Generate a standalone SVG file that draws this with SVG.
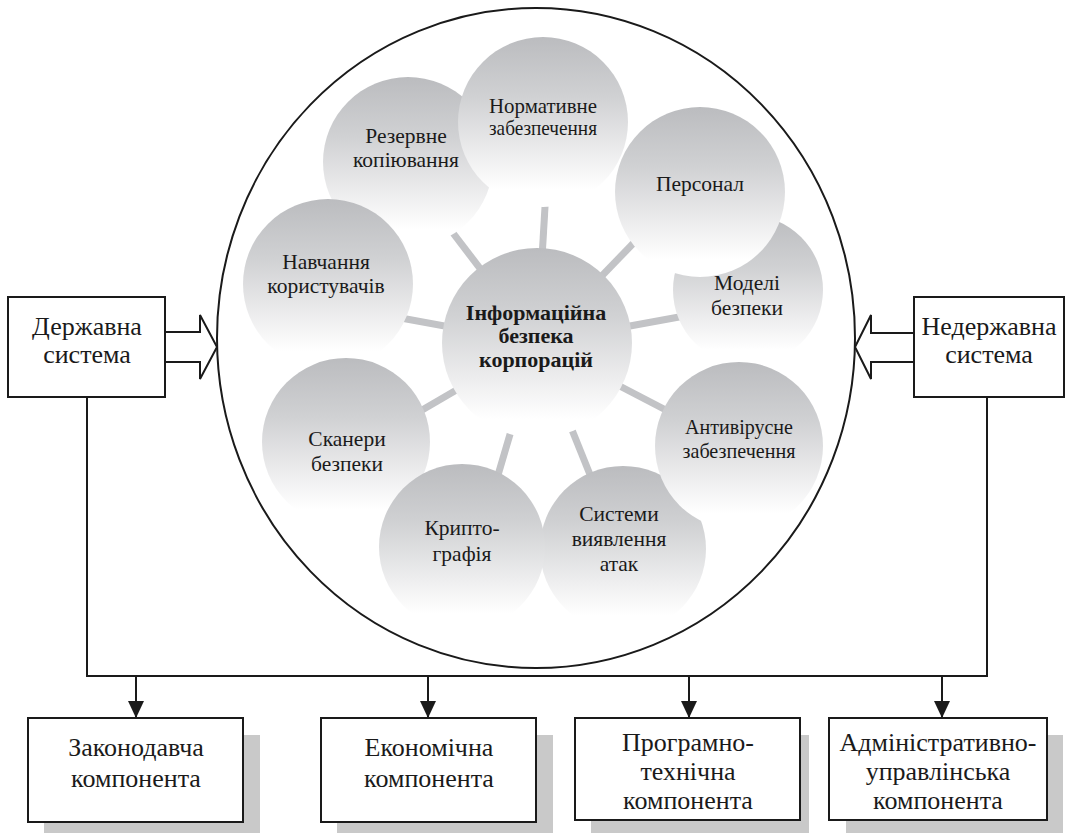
<svg xmlns="http://www.w3.org/2000/svg" width="1070" height="833" viewBox="0 0 1070 833">
<defs>
<linearGradient id="g" x1="0" y1="0" x2="0" y2="1">
<stop offset="0" stop-color="#bbbcbf"/>
<stop offset="0.35" stop-color="#d0d1d3"/>
<stop offset="0.7" stop-color="#eeeeef"/>
<stop offset="0.9" stop-color="#ffffff"/>
</linearGradient>
<marker id="ah" markerWidth="17" markerHeight="16" refX="17" refY="8" orient="auto" markerUnits="userSpaceOnUse" viewBox="0 0 17 16">
<path d="M0,0 L17,8 L0,16 Z" fill="#1a1a1a"/>
</marker>
</defs>
<style>
text{font-family:"Liberation Serif","DejaVu Serif","Noto Serif",serif;fill:#1a1a1a;text-anchor:middle}
.s{font-size:21.5px}
.b{font-size:22px;font-weight:bold}
.o{font-size:26px}
.box{fill:#ffffff;stroke:#1a1a1a;stroke-width:2}
.sh{fill:#c9c9c9}
.bub{fill:url(#g)}
.spoke{stroke:#c2c3c6;stroke-width:7;fill:none}
.ln{stroke:#1a1a1a;stroke-width:2;fill:none}
</style>
<rect width="1070" height="833" fill="#ffffff"/>

<g id="outer-circle">
<ellipse cx="536" cy="338" rx="319" ry="330" fill="none" stroke="#1a1a1a" stroke-width="2"/>
</g>

<g id="spokes">
<line class="spoke" x1="537" y1="343" x2="546" y2="190"/>
<line class="spoke" x1="537" y1="343" x2="440" y2="216"/>
<line class="spoke" x1="537" y1="343" x2="650" y2="226"/>
<line class="spoke" x1="537" y1="343" x2="690" y2="315"/>
<line class="spoke" x1="537" y1="343" x2="390" y2="316"/>
<line class="spoke" x1="537" y1="343" x2="405" y2="420"/>
<line class="spoke" x1="537" y1="343" x2="685" y2="420"/>
<line class="spoke" x1="537" y1="343" x2="493" y2="492"/>
<line class="spoke" x1="537" y1="343" x2="597" y2="492"/>
</g>

<g id="n-rezerv"><circle class="bub" cx="408" cy="162" r="85"/>
<text class="s" x="406" y="143">Резервне</text><text class="s" x="406" y="167">копіювання</text></g>
<g id="n-normat"><circle class="bub" cx="543" cy="122" r="85"/>
<text class="s" x="543" y="113" textLength="108" lengthAdjust="spacingAndGlyphs">Нормативне</text><text class="s" x="543" y="135" textLength="108" lengthAdjust="spacingAndGlyphs">забезпечення</text></g>
<g id="n-modeli"><circle class="bub" cx="748" cy="290" r="75"/>
<text class="s" x="747" y="290">Моделі</text><text class="s" x="747" y="315">безпеки</text></g>
<g id="n-personal"><circle class="bub" cx="700" cy="192" r="85"/>
<text class="s" x="700" y="191">Персонал</text></g>
<g id="n-navch"><circle class="bub" cx="328" cy="284" r="85"/>
<text class="s" x="326" y="269">Навчання</text><text class="s" x="326" y="293">користувачів</text></g>
<g id="n-skaner"><circle class="bub" cx="346" cy="442" r="84"/>
<text class="s" x="347" y="446">Сканери</text><text class="s" x="347" y="471">безпеки</text></g>
<g id="n-systemy"><circle class="bub" cx="623" cy="549" r="83"/>
<text class="s" x="619" y="521">Системи</text><text class="s" x="619" y="546">виявлення</text><text class="s" x="619" y="571">атак</text></g>
<g id="n-krypto"><circle class="bub" cx="462" cy="547" r="83"/>
<text class="s" x="462" y="535">Крипто-</text><text class="s" x="462" y="561">графія</text></g>
<g id="n-antyvir"><circle class="bub" cx="739" cy="446" r="84"/>
<text class="s" x="739" y="434" textLength="108" lengthAdjust="spacingAndGlyphs">Антивірусне</text><text class="s" x="739" y="458" textLength="113" lengthAdjust="spacingAndGlyphs">забезпечення</text></g>
<g id="n-center"><circle class="bub" cx="537" cy="343" r="95"/>
<text class="b" x="536" y="320">Інформаційна</text><text class="b" x="536" y="343">безпека</text><text class="b" x="536" y="367">корпорацій</text></g>

<g id="connectors">
<path class="ln" d="M87,397 V676 H987 V397"/>
<line class="ln" x1="136" y1="676" x2="136" y2="718" marker-end="url(#ah)"/>
<line class="ln" x1="428" y1="676" x2="428" y2="718" marker-end="url(#ah)"/>
<line class="ln" x1="689" y1="676" x2="689" y2="718" marker-end="url(#ah)"/>
<line class="ln" x1="942" y1="676" x2="942" y2="718" marker-end="url(#ah)"/>
<path d="M165,332 H200 V315 L217,347 L200,379 V362 H165" fill="#ffffff" stroke="#1a1a1a" stroke-width="2" stroke-linejoin="miter"/>
<path d="M914,333 H871 V315 L855,347 L871,379 V362 H914" fill="#ffffff" stroke="#1a1a1a" stroke-width="2" stroke-linejoin="miter"/>
</g>

<g id="n-derzh"><rect class="box" x="8" y="297" width="157" height="100"/>
<text class="o" x="87" y="335">Державна</text><text class="o" x="87" y="363">система</text></g>
<g id="n-nederzh"><rect class="box" x="914" y="297" width="150" height="100"/>
<text class="o" x="989" y="335">Недержавна</text><text class="o" x="989" y="363">система</text></g>

<g id="n-zakon"><rect class="sh" x="44" y="735" width="216" height="104"/><rect class="box" x="28" y="718" width="215" height="104"/>
<text class="o" x="136" y="756">Законодавча</text><text class="o" x="136" y="787">компонента</text></g>
<g id="n-ekon"><rect class="sh" x="337" y="735" width="216" height="104"/><rect class="box" x="321" y="718" width="215" height="104"/>
<text class="o" x="429" y="756">Економічна</text><text class="o" x="429" y="787">компонента</text></g>
<g id="n-prog"><rect class="sh" x="591" y="735" width="218" height="104"/><rect class="box" x="575" y="718" width="225" height="102"/>
<text class="o" x="688" y="751">Програмно-</text><text class="o" x="688" y="780">технічна</text><text class="o" x="688" y="809">компонента</text></g>
<g id="n-admin"><rect class="sh" x="846" y="735" width="217" height="104"/><rect class="box" x="829" y="718" width="218" height="102"/>
<text class="o" x="938" y="751">Адміністративно-</text><text class="o" x="938" y="780">управлінська</text><text class="o" x="938" y="809">компонента</text></g>
</svg>
